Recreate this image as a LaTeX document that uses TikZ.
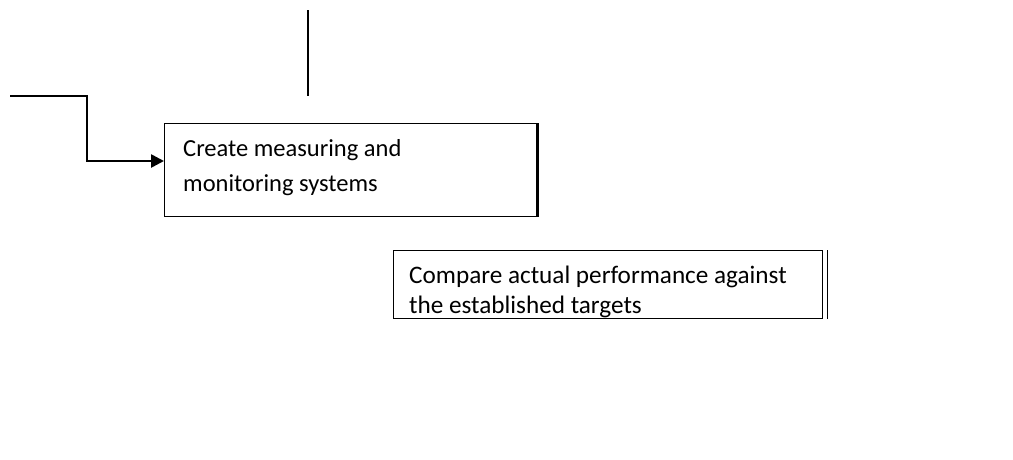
\documentclass[tikz,border=0pt]{standalone}
\usepackage{fontspec}
\setmainfont{Carlito}
\usetikzlibrary{arrows.meta}
\begin{document}
\begin{tikzpicture}[x=1pt,y=-1pt,
  stepbox/.style={draw, line width=1.3pt, rectangle, inner sep=0pt, anchor=north west},
  steptext/.style={anchor=base west, align=left, inner sep=0pt},
  link/.style={line width=2.6pt, -{Triangle[length=13pt,width=13pt]}}]
\useasboundingbox (0,0) rectangle (1013,459);
% first step box, heavier right edge
\node[stepbox, minimum width=372pt, minimum height=93pt] (b1) at (164,123) {};
\draw[line width=2.4pt] (b1.north east) -- (b1.south east);
% (anchor at the baseline of the last line)
\node[steptext, font=\fontsize{24.5}{35}\selectfont] (t1) at (183,191)
  {Create measuring and\\monitoring systems};
% second step box, doubled right edge
\node[stepbox, minimum width=429pt, minimum height=68pt] (b2) at (393,250) {};
\draw[line width=1.6pt] ([xshift=4pt]b2.north east) -- ([xshift=4pt]b2.south east);
\node[steptext, font=\fontsize{25.2}{30}\selectfont] (t2) at (409,313)
  {Compare actual performance against\\the established targets};
% incoming connector from the left
\coordinate (in) at (10,96);
\draw[link] (in) -- (87,96) |- (b1.west |- 0,161);
% vertical line above
\coordinate (v1) at (308,10);
\coordinate (v2) at (308,96);
\draw[line width=1.8pt] (v1) -- (v2);
\end{tikzpicture}
\end{document}
